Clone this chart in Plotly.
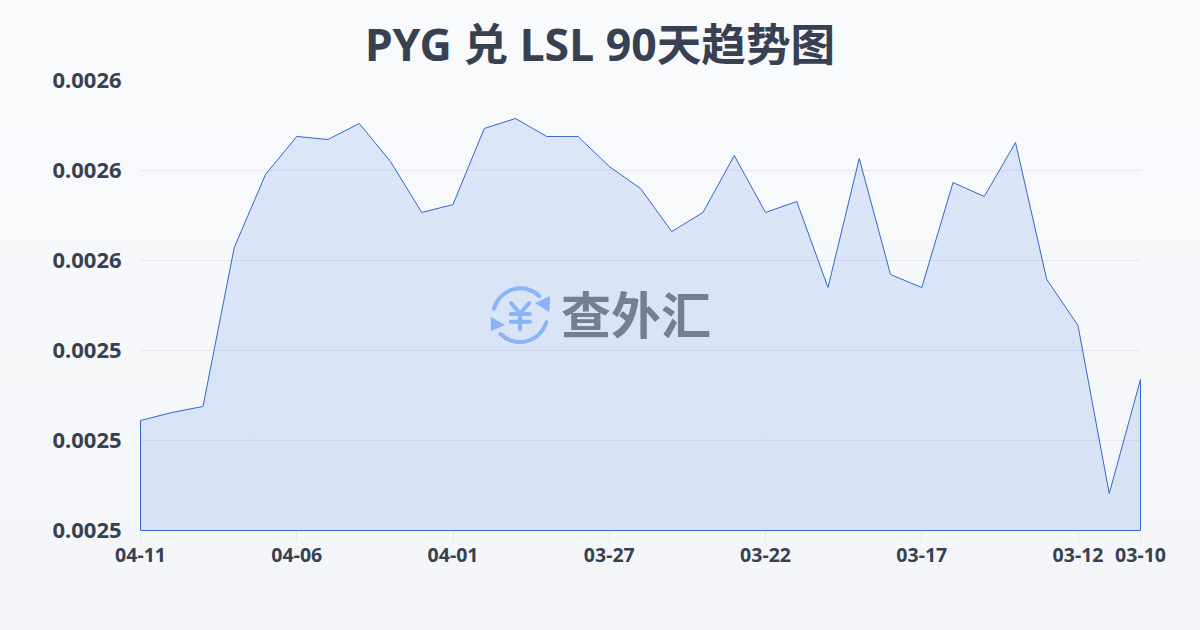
import base64
import plotly.graph_objects as go

dates = ["04-11","04-10","04-09","04-08","04-07","04-06","04-05","04-04","04-03","04-02","04-01",
         "03-31","03-30","03-29","03-28","03-27","03-26","03-25","03-24","03-23","03-22",
         "03-21","03-20","03-19","03-18","03-17","03-16","03-15","03-14","03-13","03-12","03-11","03-10"]
rates = [0.00252444,0.00252622,0.00252756,0.00256289,0.00257911,0.00258756,0.00258689,0.00259044,
         0.00258200,0.00257067,0.00257244,0.00258933,0.00259156,0.00258756,0.00258756,0.00258089,
         0.00257600,0.00256644,0.00257067,0.00258333,0.00257067,0.00257311,0.00255400,0.00258267,
         0.00255689,0.00255400,0.00257733,0.00257422,0.00258622,0.00255578,0.00254556,0.00250822,0.00253356]
tick_dates = ["04-11","04-06","04-01","03-27","03-22","03-17","03-12","03-10"]
y_floor = 0.0025
y_ceiling = 0.0026
y_step = 0.00002

title_text = "PYG 兑 LSL 90天趋势图"
watermark_text = "查外汇"
DARK = "#374151"
FONT = "Noto Sans, Noto Sans CJK SC, sans-serif"

# plot box: 1001 x 451 px, so that edges land on pixel centres
ML, MR, MT, MB = 140, 59, 80, 99
PW, PH = 1200 - ML - MR, 630 - MT - MB
half_x = 0.5 * (len(dates) - 1) / 1000
half_y = 0.5 * (y_ceiling - y_floor) / 450

def px(x):
    return (x - ML) / PW

def py(y):
    return (630 - MB - y) / PH

def data_uri(svg):
    return "data:image/svg+xml;base64," + base64.b64encode(svg.encode("utf-8")).decode("ascii")

bg_svg = ('<svg xmlns="http://www.w3.org/2000/svg" width="1200" height="630" preserveAspectRatio="none">'
          '<defs><linearGradient id="g" x1="0" y1="0" x2="0" y2="1">'
          '<stop offset="0" stop-color="#f9fafc"/><stop offset="1" stop-color="#f3f5f8"/></linearGradient></defs>'
          '<rect width="1200" height="630" fill="url(#g)"/></svg>')

icon_svg = ('<svg xmlns="http://www.w3.org/2000/svg" width="260" height="90" viewBox="0 0 780 270">'
            '<g fill="none" stroke="#8ab4f8" stroke-width="12" stroke-linecap="round" stroke-linejoin="round">'
            '<path d="M72 116 A82 82 0 0 1 208 78"/>'
            '<path d="M229 156 A82 82 0 0 1 92 192"/>'
            '<path d="M123 99 L150 130 L178 99 M122 132 H180 M122 155 H180 M150 130 V178"/>'
            '</g><g fill="#8ab4f8">'
            '<path d="M240 78 L238 127 L195 100 Z"/><path d="M62 140 L63 183 L105 165 Z"/>'
            '</g></svg>')

fig = go.Figure()
fig.add_trace(go.Scatter(
    x=dates + [dates[-1], dates[0], dates[0]],
    y=rates + [y_floor, y_floor, rates[0]],
    mode="lines",
    fill="toself",
    fillgradient=dict(type="vertical", colorscale=[[0, "rgba(59,118,226,0.155)"], [1, "rgba(59,118,226,0.15)"]]),
    line=dict(color="#3068cc", width=1),
    cliponaxis=False,
    hoverinfo="skip",
    showlegend=False,
))

fig.update_layout(
    width=1200, height=630,
    margin=dict(l=ML, r=MR, t=MT, b=MB),
    paper_bgcolor="#f6f7fa",
    plot_bgcolor="rgba(0,0,0,0)",
    font=dict(family=FONT, color=DARK),
    title=dict(text=title_text, x=0.5, xanchor="center", y=0.928, yanchor="middle",
               font=dict(family=FONT, size=44.6, color=DARK, weight=700)),
    xaxis=dict(type="category", categoryorder="array", categoryarray=dates,
               range=[-half_x, len(dates) - 1 + half_x], tickmode="array", tickvals=tick_dates, ticktext=tick_dates,
               ticks="outside", ticklen=10, tickwidth=1, tickcolor="#e2e5ea", ticklabelstandoff=-3,
               tickfont=dict(family=FONT, size=19.5, color=DARK, weight=700),
               showgrid=False, zeroline=False, showline=False),
    yaxis=dict(range=[y_floor - half_y, y_ceiling + half_y], tick0=y_floor, dtick=y_step, tickformat=".4f",
               ticks="outside", ticklen=13, tickcolor="rgba(0,0,0,0)",
               tickfont=dict(family=FONT, size=22, color=DARK, weight=700),
               showgrid=True, gridcolor="#e5e8ee", gridwidth=1, zeroline=False, showline=False),
    images=[
        dict(source=data_uri(bg_svg), xref="paper", yref="paper", x=px(0), y=py(0),
             sizex=1200/PW, sizey=630/PH, sizing="stretch", xanchor="left", yanchor="top", layer="below"),
        dict(source=data_uri(icon_svg), xref="paper", yref="paper", x=px(470), y=py(270),
             sizex=260/PW, sizey=90/PH, sizing="stretch", xanchor="left", yanchor="top", layer="above"),
    ],
    annotations=[dict(text=watermark_text, xref="paper", yref="paper", x=px(636), y=py(312),
                      xanchor="center", yanchor="middle", showarrow=False,
                      font=dict(family="Noto Sans CJK SC", size=50, color="#767f91", weight=700))],
)
fig.write_html("out.html", config={"displayModeBar": False},
               post_script="document.body.style.margin='0';document.body.style.overflow='hidden';")
